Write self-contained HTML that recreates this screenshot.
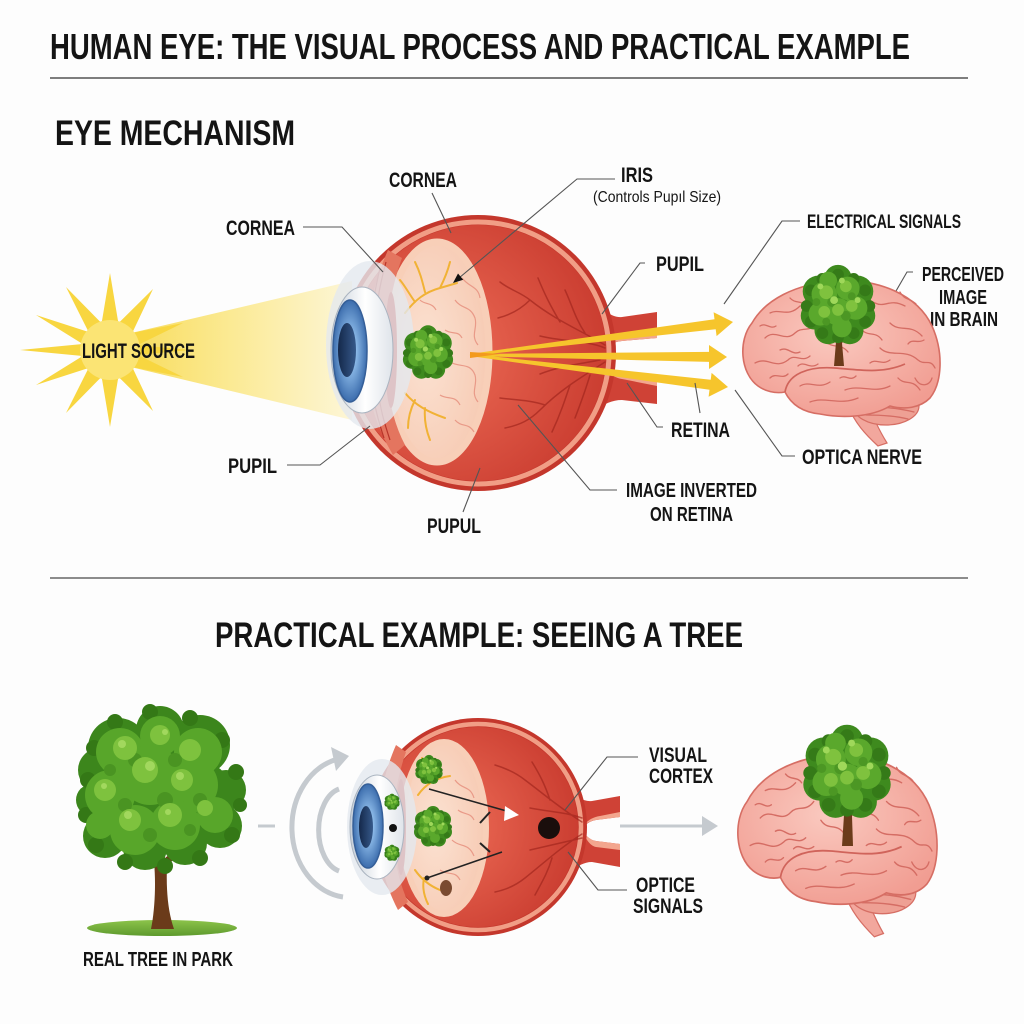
<!DOCTYPE html>
<html><head><meta charset="utf-8"><style>
html,body{margin:0;padding:0;background:#fdfdfd;}
svg{display:block;}
text{font-family:"Liberation Sans Narrow","Liberation Sans",sans-serif;font-weight:bold;fill:#141414;}
.lbl{font-size:21px;}
.ld{stroke:#555;stroke-width:1.1;fill:none;}
.gy{fill:none;stroke:#d56d64;stroke-width:1.3;stroke-linecap:round;}
.vein{fill:none;stroke:#a3271e;stroke-width:1.5;opacity:.7;stroke-linecap:round;}
.yv{fill:none;stroke:#f1b235;stroke-width:2;stroke-linecap:round;}
.sq{fill:none;stroke:#e99a88;stroke-width:1.2;}
</style></head><body>
<svg width="1024" height="1024" viewBox="0 0 1024 1024" xmlns="http://www.w3.org/2000/svg">
<defs>
 <linearGradient id="beam" x1="110" y1="0" x2="355" y2="0" gradientUnits="userSpaceOnUse">
  <stop offset="0" stop-color="#f7d84a"/>
  <stop offset="0.5" stop-color="#fbe98f"/>
  <stop offset="1" stop-color="#fdf6d6"/>
 </linearGradient>
 <radialGradient id="sclera" cx="0.35" cy="0.5" r="0.7">
  <stop offset="0" stop-color="#ee6d57"/>
  <stop offset="1" stop-color="#c83a2e"/>
 </radialGradient>
 <radialGradient id="peach" cx="0.4" cy="0.5" r="0.7">
  <stop offset="0" stop-color="#fbe2d2"/>
  <stop offset="1" stop-color="#f6c7af"/>
 </radialGradient>
 <radialGradient id="iris" cx="0.5" cy="0.5" r="0.5">
  <stop offset="0.35" stop-color="#8dbbe9"/>
  <stop offset="1" stop-color="#3c6dad"/>
 </radialGradient>
 <linearGradient id="pup" x1="0" x2="1">
  <stop offset="0" stop-color="#14284a"/><stop offset="1" stop-color="#36598a"/>
 </linearGradient>
 <linearGradient id="cornea" x1="0" x2="1">
  <stop offset="0" stop-color="#c5ced8"/><stop offset="0.55" stop-color="#ffffff"/><stop offset="1" stop-color="#dfe4ea"/>
 </linearGradient>
 <radialGradient id="brainG" cx="0.45" cy="0.4" r="0.65">
  <stop offset="0" stop-color="#fac9bf"/><stop offset="1" stop-color="#f19d92"/>
 </radialGradient>
 <linearGradient id="grass" x1="0" y1="0" x2="0" y2="1">
  <stop offset="0" stop-color="#8cc34a"/><stop offset="1" stop-color="#5e9a2e"/>
 </linearGradient>

 <g id="canopy">
  <circle cx="0" cy="0" r="34" fill="#3e8a1e"/>
  <circle cx="-20" cy="-15" r="16" fill="#3e8a1e"/><circle cx="20" cy="-15" r="16" fill="#3e8a1e"/>
  <circle cx="-24" cy="10" r="14" fill="#3e8a1e"/><circle cx="24" cy="10" r="14" fill="#3e8a1e"/>
  <circle cx="0" cy="-28" r="14" fill="#3e8a1e"/><circle cx="-10" cy="25" r="14" fill="#3e8a1e"/><circle cx="12" cy="25" r="14" fill="#3e8a1e"/>
  <g fill="#357a18">
   <circle cx="32" cy="0" r="6"/><circle cx="27.7" cy="16" r="6"/><circle cx="16" cy="27.7" r="6"/><circle cx="0" cy="32" r="6"/>
   <circle cx="-16" cy="27.7" r="6"/><circle cx="-27.7" cy="16" r="6"/><circle cx="-32" cy="0" r="6"/><circle cx="-27.7" cy="-16" r="6"/>
   <circle cx="-16" cy="-27.7" r="6"/><circle cx="0" cy="-32" r="6"/><circle cx="16" cy="-27.7" r="6"/><circle cx="27.7" cy="-16" r="6"/>
  </g>
  <circle cx="-14" cy="-12" r="13" fill="#5aa82c"/><circle cx="10" cy="-18" r="12" fill="#5aa82c"/>
  <circle cx="18" cy="2" r="12" fill="#5aa82c"/><circle cx="-18" cy="8" r="12" fill="#5aa82c"/>
  <circle cx="0" cy="6" r="14" fill="#5aa82c"/><circle cx="4" cy="22" r="10" fill="#5aa82c"/><circle cx="-10" cy="-26" r="9" fill="#5aa82c"/>
  <g fill="#4c9724">
   <circle cx="-6" cy="-4" r="5"/><circle cx="8" cy="10" r="5"/><circle cx="-12" cy="16" r="4"/><circle cx="14" cy="-10" r="4"/><circle cx="-22" cy="-4" r="4"/>
  </g>
  <circle cx="-12" cy="-14" r="7" fill="#7fc23e"/><circle cx="8" cy="-20" r="6" fill="#7fc23e"/>
  <circle cx="14" cy="0" r="6" fill="#7fc23e"/><circle cx="-14" cy="6" r="6" fill="#7fc23e"/>
  <circle cx="0" cy="4" r="6" fill="#7fc23e"/><circle cx="-4" cy="-6" r="4" fill="#9fd85a"/>
  <circle cx="-18" cy="-20" r="3" fill="#9fd85a"/><circle cx="4" cy="-26" r="3" fill="#9fd85a"/><circle cx="20" cy="-6" r="3" fill="#9fd85a"/>
 </g>

 <g id="brain">
  <path d="M108,128 C115,145 125,156 138,168 L147,165 C139,152 133,140 129,126 Z" fill="#f2a79d" stroke="#d66e64" stroke-width="1.2"/>
  <ellipse cx="146" cy="128" rx="33" ry="19" fill="#eea094" stroke="#d66e64" stroke-width="1.2"/>
  <path class="gy" d="M118,122 C135,120 155,121 175,126 M120,130 C140,128 158,130 174,134 M126,137 C142,137 156,138 168,141"/>
  <path d="M18,108 C0,95 -2,62 12,45 C25,22 55,6 95,3 C140,0 178,18 192,48 C204,75 202,105 190,120 C180,130 165,132 150,128 C130,140 100,140 80,136 C60,134 50,124 45,114 C35,116 25,113 18,108 Z" fill="url(#brainG)" stroke="#d66e64" stroke-width="1.6"/>
  <path d="M45,114 C48,96 68,88 95,90 C120,92 142,96 165,86" fill="none" stroke="#d0645b" stroke-width="1.7"/>
  <path class="gy" d="M25,60 C35,50 45,65 55,55 C62,48 70,55 78,45 M15,85 C28,78 35,92 48,82 C55,75 62,85 70,78 M30,35 C40,30 48,40 60,28 M100,20 C110,30 120,18 135,25 C145,30 150,20 165,28 M150,45 C160,55 170,45 182,58 M140,70 C150,80 165,70 178,82 C185,88 190,80 195,90 M120,50 C128,60 135,52 142,62 M60,108 C70,102 78,112 90,104 M105,112 C120,106 135,116 150,108 M70,124 C85,118 100,128 118,120 M85,62 C92,72 100,64 108,74 M175,100 C180,110 190,108 192,100 M40,72 C48,68 52,78 60,74 M72,20 C78,28 85,22 92,30 M58,88 C64,82 70,92 78,86 M158,100 C165,108 172,100 180,112 M30,100 C36,94 42,102 48,96 M110,40 C116,46 124,40 128,48 M20,48 C26,44 30,52 36,48 M50,20 C55,26 62,22 66,28 M130,85 C136,80 142,88 150,82 M168,66 C172,60 178,66 184,62 M100,100 C106,96 110,104 116,98 M90,40 C96,36 100,44 106,40 M160,14 C164,22 170,20 176,26"/>
 </g>
</defs>

<rect width="1024" height="1024" fill="#fdfdfd"/>

<!-- Titles -->
<text x="50" y="59" font-size="36" textLength="860" lengthAdjust="spacingAndGlyphs">HUMAN EYE: THE VISUAL PROCESS AND PRACTICAL EXAMPLE</text>
<line x1="50" y1="78" x2="968" y2="78" stroke="#555" stroke-width="1.6"/>
<text x="55" y="145" font-size="35" textLength="240" lengthAdjust="spacingAndGlyphs">EYE MECHANISM</text>
<line x1="50" y1="578" x2="968" y2="578" stroke="#666" stroke-width="1.6"/>
<text x="215" y="647" font-size="35" textLength="528" lengthAdjust="spacingAndGlyphs">PRACTICAL EXAMPLE: SEEING A TREE</text>

<!-- ===== TOP: light beam & sun ===== -->
<polygon points="110,338 352,281 352,420 110,362" fill="url(#beam)" opacity="0.95"/>
<polygon points="110,273 118.4,323.3 153,289 132.2,333 183,323 137.6,345.1 190,350 137.6,354.9 183,377 132.2,367 153,411 118.4,376.7 110,427 101.6,376.7 66,413 88.6,368 36,385 82.7,356 20,350 82.7,344 36,315 88.6,332 66,287 101.6,323.3" fill="#f8d640"/>
<circle cx="110" cy="350" r="30" fill="#fbe474"/>
<text class="lbl" x="82" y="358" textLength="113" lengthAdjust="spacingAndGlyphs">LIGHT SOURCE</text>

<!-- optic nerve tubes (top) -->
<path d="M596,302 C605,311 612,318 622,317 L657,312 L657,338 L622,341 C613,342 606,346 600,352 Z" fill="#cf4236"/>
<path d="M604,346 C610,340 616,337 624,336 L657,332 L657,338 L622,341 C613,342 608,344 604,346 Z" fill="#f3a68e"/>
<path d="M600,360 C606,366 612,371 622,372 L657,380 L657,404 L622,400 C612,400 604,404 596,410 Z" fill="#cf4236"/>
<path d="M600,360 C606,366 612,371 622,372 L657,380 L657,386 L622,379 C614,378 606,372 600,360 Z" fill="#f3a68e"/>

<!-- sphere top -->
<circle cx="478" cy="353" r="138" fill="#c4372c"/>
<circle cx="478" cy="353" r="131" fill="none" stroke="#f19e86" stroke-width="5"/>
<circle cx="478" cy="353" r="128" fill="url(#sclera)"/>
<path class="vein" d="M605,345 C580,330 555,320 530,300 C520,292 510,290 500,282 M560,322 C550,305 545,295 538,278 M530,300 C520,310 510,315 498,318 M605,348 C585,340 565,342 540,336 M605,362 C580,378 560,390 540,410 C530,420 520,425 505,428 M570,385 C565,400 560,415 552,432 M545,405 C530,400 515,400 500,398 M600,360 C580,364 560,366 540,374 M585,333 C575,318 572,305 565,290 M590,375 C585,392 580,405 575,418"/>

<!-- peach cutaway -->
<ellipse cx="437" cy="352" rx="52" ry="110" fill="url(#peach)" stroke="#f8cfb8" stroke-width="7"/>
<path class="sq" d="M455,300 C462,310 470,305 475,318 C478,328 470,335 478,345 M450,362 C460,368 470,362 475,375 C478,385 470,392 478,402 M462,278 C470,288 478,286 480,298 M445,330 C452,335 458,330 462,338 M440,395 C448,400 455,395 460,405 M420,300 C425,305 432,302 436,310 M455,420 C462,428 468,422 474,432"/>
<path class="yv" d="M405,313 C415,300 425,292 440,288 L457,283 M425,292 C422,280 420,272 415,262 M440,288 C445,278 448,270 450,262 M415,302 C408,292 405,286 400,280 M405,393 C415,405 428,412 445,418 M425,408 C424,420 426,430 430,440 M415,400 C410,410 408,418 408,428"/>

<!-- ciliary -->
<path d="M388,250 C374,282 365,320 365,353 C365,390 375,425 393,455 L405,445 C392,420 386,390 386,353 C386,318 392,285 402,258 Z" fill="#e4755f"/>
<path d="M380,268 C375,290 372,305 371,320 M386,262 C380,285 377,300 376,318 M372,388 C374,405 378,420 384,438 M378,390 C380,408 384,422 390,440" stroke="#b8352a" stroke-width="1.2" fill="none"/>
<ellipse cx="391" cy="350" rx="6" ry="58" fill="#c83228"/>

<!-- cornea/iris top -->
<ellipse cx="370" cy="345" rx="44" ry="84" fill="#e3e9ef" opacity="0.8"/>
<ellipse cx="362" cy="350" rx="31" ry="63" fill="url(#cornea)" stroke="#aab4c0" stroke-width="1"/>
<ellipse cx="350" cy="351" rx="17" ry="51" fill="url(#iris)" stroke="#355f98" stroke-width="1.5"/>
<ellipse cx="347" cy="350" rx="9" ry="27" fill="url(#pup)"/>

<!-- green blob -->
<use href="#canopy" transform="translate(428,353) scale(0.66)"/>

<!-- yellow arrows -->
<g fill="#f6c52c">
 <polygon points="469.9,354 470.1,356 715.7,329.2 716.6,336.1 733,322 713.6,312.3 714.5,319.2"/>
 <polygon points="470,354 470,356 709,361.9 709,369 727,357 709,345 709,351.9"/>
 <polygon points="470.1,354 469.9,356 709.5,389.8 708.6,396.7 728,387 711.6,372.9 710.7,379.8"/>
</g>
<polygon points="470,352 500,354 470,358" fill="#f39a1e"/>

<!-- top leaders -->
<path class="ld" d="M432,193 L451,233"/>
<path class="ld" d="M303,227 L342,227 L383,272"/>
<path class="ld" d="M287,465 L320,465 L370,426"/>
<path class="ld" d="M463,512 L480,468"/>
<path class="ld" d="M615,179 L577,179 L459,278"/>
<polygon points="453,283 463.2,279.7 458,273.5" fill="#111"/>
<path class="ld" d="M645,263 L640,263 L602,314"/>
<path class="ld" d="M800,221 L782,221 L724,304"/>
<path class="ld" d="M913,272 L907,272 L885,310"/>
<path class="ld" d="M663,427 L657,427 L627,383"/>
<path class="ld" d="M695,383 L700,413"/>
<path class="ld" d="M795,456 L782,456 L735,390"/>
<path class="ld" d="M617,490 L590,490 L518,405"/>

<!-- top labels -->
<text class="lbl" x="389" y="187" textLength="68" lengthAdjust="spacingAndGlyphs">CORNEA</text>
<text class="lbl" x="226" y="235" textLength="69" lengthAdjust="spacingAndGlyphs">CORNEA</text>
<text class="lbl" x="228" y="473" textLength="49" lengthAdjust="spacingAndGlyphs">PUPIL</text>
<text class="lbl" x="427" y="533" textLength="54" lengthAdjust="spacingAndGlyphs">PUPUL</text>
<text class="lbl" x="621" y="182" textLength="32" lengthAdjust="spacingAndGlyphs">IRIS</text>
<text x="593" y="202" font-size="16" style="font-weight:normal" textLength="128" lengthAdjust="spacingAndGlyphs">(Controls Pupıl Size)</text>
<text class="lbl" x="807" y="228" style="font-size:19px" textLength="154" lengthAdjust="spacingAndGlyphs">ELECTRICAL SIGNALS</text>
<text class="lbl" x="656" y="271" textLength="48" lengthAdjust="spacingAndGlyphs">PUPIL</text>
<text class="lbl" x="922" y="281" style="font-size:20px" textLength="82" lengthAdjust="spacingAndGlyphs">PERCEIVED</text>
<text class="lbl" x="939" y="304" style="font-size:20px" textLength="48" lengthAdjust="spacingAndGlyphs">IMAGE</text>
<text class="lbl" x="930" y="326" style="font-size:20px" textLength="68" lengthAdjust="spacingAndGlyphs">IN BRAIN</text>
<text class="lbl" x="671" y="437" textLength="59" lengthAdjust="spacingAndGlyphs">RETINA</text>
<text class="lbl" x="802" y="464" textLength="120" lengthAdjust="spacingAndGlyphs">OPTICA NERVE</text>
<text class="lbl" x="626" y="497" style="font-size:20px" textLength="131" lengthAdjust="spacingAndGlyphs">IMAGE INVERTED</text>
<text class="lbl" x="650" y="521" style="font-size:20px" textLength="83" lengthAdjust="spacingAndGlyphs">ON RETINA</text>

<!-- top brain -->
<use href="#brain" transform="translate(740,278)"/>
<path d="M834,366 L836,342 L826,333 L828,330 L837,337 L838,328 L841,328 L841,338 L850,330 L852,333 L842,343 L844,366 Z" fill="#6b3b1a"/>
<use href="#canopy" transform="translate(838,306) scale(0.98)"/>

<!-- ===== BOTTOM ===== -->
<!-- tree -->
<ellipse cx="162" cy="928" rx="75" ry="8" fill="url(#grass)"/>
<path d="M151,929 C155,910 156,882 154,862 L139,852 L142,848 L155,856 L157,842 L163,842 L165,858 L180,846 L183,850 L167,866 C166,890 168,912 174,929 Z" fill="#6b3b1a"/>
<g>
 <g fill="#3c861c">
  <circle cx="118" cy="748" r="30"/><circle cx="160" cy="730" r="24"/><circle cx="200" cy="745" r="30"/>
  <circle cx="226" cy="790" r="20"/><circle cx="220" cy="826" r="22"/><circle cx="185" cy="843" r="22"/>
  <circle cx="145" cy="848" r="22"/><circle cx="105" cy="836" r="22"/><circle cx="92" cy="800" r="16"/>
  <circle cx="100" cy="770" r="22"/><circle cx="162" cy="790" r="55"/><circle cx="130" cy="800" r="40"/><circle cx="195" cy="800" r="40"/>
 </g>
 <g fill="#347816">
  <circle cx="88" cy="780" r="8"/><circle cx="86" cy="815" r="8"/><circle cx="96" cy="845" r="8"/><circle cx="125" cy="862" r="8"/>
  <circle cx="165" cy="866" r="8"/><circle cx="200" cy="858" r="8"/><circle cx="232" cy="835" r="8"/><circle cx="240" cy="805" r="7"/>
  <circle cx="236" cy="772" r="8"/><circle cx="222" cy="740" r="8"/><circle cx="190" cy="718" r="8"/><circle cx="150" cy="712" r="8"/>
  <circle cx="115" cy="722" r="8"/><circle cx="94" cy="748" r="8"/>
 </g>
 <g fill="#58a62a">
  <circle cx="120" cy="752" r="24"/><circle cx="160" cy="736" r="20"/><circle cx="198" cy="752" r="24"/>
  <circle cx="110" cy="795" r="25"/><circle cx="150" cy="775" r="30"/><circle cx="190" cy="785" r="28"/>
  <circle cx="215" cy="815" r="18"/><circle cx="175" cy="825" r="25"/><circle cx="135" cy="830" r="25"/><circle cx="100" cy="825" r="14"/>
 </g>
 <g fill="#4a9422">
  <circle cx="135" cy="760" r="7"/><circle cx="175" cy="760" r="7"/><circle cx="125" cy="805" r="7"/><circle cx="165" cy="800" r="8"/>
  <circle cx="200" cy="800" r="7"/><circle cx="150" cy="835" r="7"/><circle cx="190" cy="830" r="6"/><circle cx="110" cy="770" r="6"/>
 </g>
 <g fill="#7ec23e">
  <circle cx="125" cy="748" r="12"/><circle cx="160" cy="735" r="10"/><circle cx="190" cy="750" r="11"/>
  <circle cx="105" cy="790" r="11"/><circle cx="145" cy="770" r="13"/><circle cx="182" cy="780" r="11"/>
  <circle cx="130" cy="820" r="11"/><circle cx="170" cy="815" r="12"/><circle cx="205" cy="808" r="8"/>
 </g>
 <g fill="#a2d85e">
  <circle cx="122" cy="744" r="4"/><circle cx="150" cy="766" r="5"/><circle cx="180" cy="776" r="4"/><circle cx="128" cy="815" r="4"/>
  <circle cx="165" cy="732" r="3"/><circle cx="104" cy="786" r="3"/><circle cx="168" cy="812" r="3"/>
 </g>
</g>
<text class="lbl" x="83" y="966" style="font-size:20px" textLength="150" lengthAdjust="spacingAndGlyphs">REAL TREE IN PARK</text>

<!-- gray arcs -->
<line x1="258" y1="826" x2="275" y2="826" stroke="#c5cacf" stroke-width="3"/>
<path d="M343,897 A58,70 0 0 1 338,759" fill="none" stroke="#c5cacf" stroke-width="5"/>
<polygon points="349,756 331,747 336,771" fill="#c5cacf"/>
<path d="M339,871 A26,42 0 0 1 339,789" fill="none" stroke="#c5cacf" stroke-width="5"/>

<!-- bottom nerve tubes -->
<path d="M568,790 C577,797 584,802 592,801 L620,796 L620,817 L596,820 C590,821 586,824 582,828 Z" fill="#cf4236"/>
<path d="M584,825 C589,819 594,817 600,816 L620,812 L620,817 L596,820 C590,821 587,823 584,825 Z" fill="#f3a68e"/>
<path d="M582,830 C586,836 590,840 596,841 L620,844 L620,867 L592,862 C584,862 578,866 568,872 Z" fill="#cf4236"/>
<path d="M582,830 C586,836 590,840 596,841 L620,844 L620,850 L596,847 C590,846 585,838 582,830 Z" fill="#f3a68e"/>

<!-- bottom sphere -->
<circle cx="478" cy="827" r="109" fill="#c4372c"/>
<circle cx="478" cy="827" r="103" fill="none" stroke="#f19e86" stroke-width="4.5"/>
<circle cx="478" cy="827" r="100" fill="url(#sclera)"/>
<path class="vein" d="M582,822 C560,808 545,795 525,780 C515,772 505,768 495,765 M550,800 C545,785 540,775 532,762 M582,818 C565,812 550,812 530,808 M582,834 C560,848 545,862 525,878 C515,886 505,890 495,892 M552,858 C548,872 542,882 535,895 M582,838 C565,842 548,846 530,850"/>

<ellipse cx="444" cy="828" rx="42" ry="86" fill="url(#peach)" stroke="#f8cfb8" stroke-width="6"/>
<path class="sq" d="M455,780 C462,790 470,785 474,798 M452,840 C460,848 468,842 474,856 M440,870 C448,876 455,870 460,880 M458,810 C464,815 470,812 474,820"/>
<path class="yv" d="M418,795 C425,785 435,778 450,776 M430,782 C428,772 426,765 422,758 M415,870 C422,880 430,886 440,890 M424,878 C422,888 424,896 428,904"/>

<path d="M396,745 C385,770 378,800 378,828 C378,858 385,885 398,910 L408,902 C398,880 393,855 393,828 C393,800 398,775 406,752 Z" fill="#e4755f"/>
<ellipse cx="401" cy="827" rx="5" ry="48" fill="#c83228"/>

<ellipse cx="382" cy="827" rx="35" ry="68" fill="#e3e9ef" opacity="0.8"/>
<ellipse cx="377" cy="827" rx="27" ry="52" fill="url(#cornea)" stroke="#aab4c0" stroke-width="1"/>
<ellipse cx="368" cy="826" rx="15" ry="42" fill="url(#iris)" stroke="#355f98" stroke-width="1.5"/>
<ellipse cx="366" cy="827" rx="7" ry="21" fill="url(#pup)"/>

<use href="#canopy" transform="translate(392,802) scale(0.2)"/>
<use href="#canopy" transform="translate(392,853) scale(0.2)"/>
<circle cx="393" cy="828" r="4" fill="#111"/>
<use href="#canopy" transform="translate(429,770) scale(0.36)"/>
<use href="#canopy" transform="translate(433,827) scale(0.5)"/>
<ellipse cx="446" cy="888" rx="6" ry="8" fill="#7a4a30"/>

<path d="M429,789 L510,812" stroke="#222" stroke-width="1.5"/>
<polygon points="519,815 505,806 504,821" fill="#fff"/>
<path d="M427,878 L502,852" stroke="#222" stroke-width="1.5"/>
<circle cx="427" cy="878" r="2.5" fill="#222"/>
<path d="M480,823 L490,812 M480,843 L490,852" stroke="#222" stroke-width="2"/>
<circle cx="549" cy="828" r="11" fill="#1a0e0c"/>

<!-- gray arrow right -->
<line x1="620" y1="826" x2="712" y2="826" stroke="#c5cacf" stroke-width="3"/>
<polygon points="718,826 702,816 702,836" fill="#c5cacf"/>

<!-- bottom leaders & labels -->
<path class="ld" d="M638,757 L607,757 L565,810"/>
<path class="ld" d="M627,890 L598,890 L568,852"/>
<text class="lbl" x="649" y="762" textLength="58" lengthAdjust="spacingAndGlyphs">VISUAL</text>
<text class="lbl" x="649" y="783" textLength="64" lengthAdjust="spacingAndGlyphs">CORTEX</text>
<text class="lbl" x="636" y="892" textLength="59" lengthAdjust="spacingAndGlyphs">OPTICE</text>
<text class="lbl" x="633" y="913" textLength="70" lengthAdjust="spacingAndGlyphs">SIGNALS</text>

<!-- bottom brain -->
<use href="#brain" transform="translate(735,752) scale(1.01,1.1)"/>
<path d="M842,846 L844,815 L832,804 L835,801 L845,809 L846,798 L850,798 L850,810 L861,801 L864,804 L852,816 L853,846 Z" fill="#6b3b1a"/>
<use href="#canopy" transform="translate(847,773) scale(1.15)"/>

</svg>
</body></html>
